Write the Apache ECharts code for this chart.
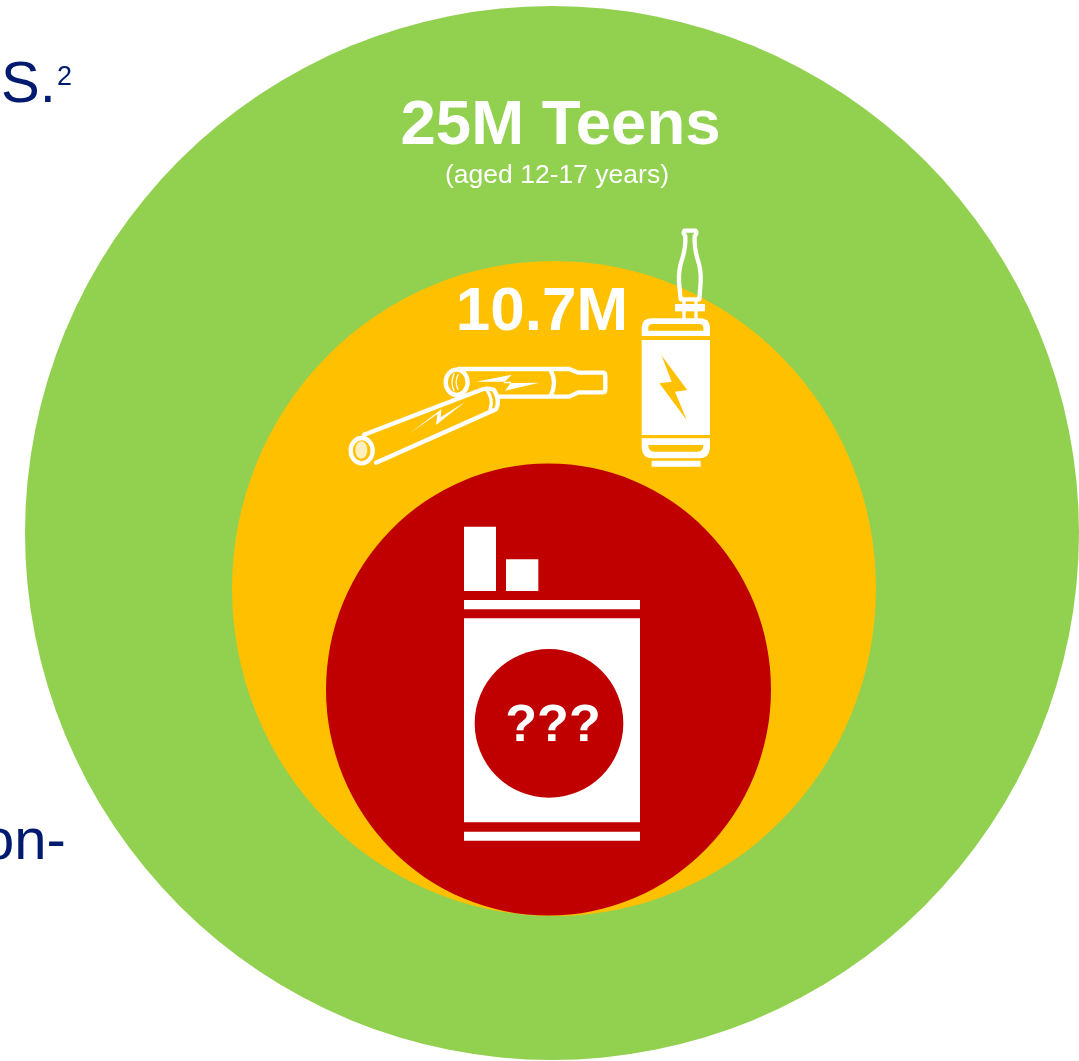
<!DOCTYPE html>
<html>
<head>
<meta charset="utf-8">
<title>Teen population and product use</title>
<style>
  html, body { margin: 0; padding: 0; background: #fff; overflow: hidden; }
  #chart { width: 1079px; height: 1061px; }
</style>
<script src="https://cdn.jsdelivr.net/npm/echarts@6/dist/echarts.min.js"></script>
</head>
<body>
<div id="chart"></div>
<script>
// Nested population circles, outermost first
const groupNames = ['Teens', 'Experimenters', 'Smokers'];
const centerX = [552, 554, 548.5];
const centerY = [533, 588.5, 689.5];
const widths = [1054, 644, 445];
const heights = [1054, 655, 452];
const groupColors = ['#92D050', '#FFC000', '#C00000'];

// Text drawn on and beside the circles
const headline = '25M Teens';
const headlineNote = '(aged 12-17 years)';
const midCount = '10.7M';
const unknownCount = '???';
const sideFragments = ['S.', '2', 'on-'];

const WHITE = '#FFFFFF';
const NAVY = '#001A70';
const FONT = '"Liberation Sans", Arial, sans-serif';
const ICON_Z = 15;

function text(str, x, y, size, weight, fill, align) {
  return {
    type: 'text', z: 20, silent: true,
    style: {
      text: str, x: x, y: y, fill: fill,
      font: (weight || 'normal') + ' ' + size + 'px ' + FONT,
      textAlign: align || 'center', textVerticalAlign: 'middle'
    }
  };
}
function box(x, y, w, h, fill) {
  return { type: 'rect', z: ICON_Z, shape: { x: x, y: y, width: w, height: h }, style: { fill: fill } };
}
// The graphic component has no SVG path type, so each outline is registered as its own shape
let pathCount = 0;
function path(d, fill, stroke, lw) {
  const shapeName = 'iconOutline' + pathCount++;
  echarts.graphic.registerShape(shapeName, echarts.graphic.extendPath(d, {}));
  return {
    type: shapeName, z: ICON_Z,
    style: { fill: fill || 'none', stroke: stroke || 'none', lineWidth: lw || 0, lineJoin: 'round', lineCap: 'round' }
  };
}

// Tank vape and the two cartridges; authored at 3x and scaled down by the group
const vapeIcons = {
  type: 'group', x: 330, y: 210, scaleX: 1 / 3, scaleY: 1 / 3, silent: true,
  children: [
    // glass mouthpiece
    path('M1063 62 L1097 62 Q1102 70 1094 78 Q1092 110 1102 145 Q1114 180 1112 215 L1108 268 L1052 268 L1047 215 Q1045 180 1057 145 Q1068 110 1066 78 Q1058 70 1063 62 Z', 'none', WHITE, 13),
    // threaded collar
    box(1035, 282, 90, 22, WHITE),
    path('M1062 268 L1062 326 M1098 268 L1098 326', 'none', WHITE, 10),
    // battery head with slot
    path('M935 378 L935 350 Q938 325 965 325 L1110 325 Q1137 325 1140 350 L1140 378 Z', WHITE),
    path('M955 362 L955 352 Q957 342 968 342 L1108 342 Q1118 342 1120 352 L1120 362 Z', '#FFC000'),
    // battery body and bolt
    box(935, 390, 205, 285, WHITE),
    path('M995 437 L1072 540 L1035 545 L1070 630 L988 520 L1025 515 Z', '#FFC000'),
    // battery foot with slot
    path('M935 685 L1140 685 L1140 715 Q1137 745 1108 745 L967 745 Q938 745 935 715 Z', WHITE),
    path('M955 705 L1120 705 Q1120 725 1102 725 L973 725 Q955 725 955 705 Z', '#FFC000'),
    box(965, 752, 147, 18, WHITE),

    // upper cartridge
    path('M385 477 L718 477 L745 488 L818 488 Q826 488 826 497 L826 538 Q826 547 818 547 L745 547 L718 560 L505 560', 'none', WHITE, 13),
    { type: 'ellipse', z: ICON_Z, shape: { cx: 380, cy: 517, rx: 33, ry: 38 }, style: { fill: 'none', stroke: WHITE, lineWidth: 13 } },
    path('M372 492 Q360 517 372 542 M384 494 Q373 517 384 538', 'none', WHITE, 4),
    path('M662 480 Q682 518 662 558', 'none', WHITE, 13),
    path('M438 515 L545 494 L520 520 L628 518 L525 542 L545 515 Z', WHITE),

    // lower cartridge, laid across the first
    path('M102 674 L442 544 Q470 530 492 540 Q512 572 498 598 L138 758', '#FFC000', WHITE, 13),
    path('M468 535 Q492 570 480 598', 'none', WHITE, 10),
    { type: 'ellipse', z: ICON_Z, shape: { cx: 95, cy: 722, rx: 33, ry: 38 }, style: { fill: '#FFC000', stroke: WHITE, lineWidth: 13 } },
    { type: 'ellipse', z: ICON_Z, shape: { cx: 94, cy: 720, rx: 18, ry: 26 }, style: { fill: 'rgba(255,255,255,0.75)' } },
    path('M235 673 L322 612 L318 645 L406 575 L332 622 L334 598 Z', WHITE)
  ]
};

// Cigarette pack, authored at 3x as well
const packIcon = {
  type: 'group', x: 440, y: 510, scaleX: 1 / 3, scaleY: 1 / 3, silent: true,
  children: [
    box(72, 50, 96, 193, WHITE),
    box(198, 148, 97, 95, WHITE),
    box(72, 270, 528, 28, WHITE),
    box(72, 325, 528, 612, WHITE),
    box(72, 965, 528, 27, WHITE),
    { type: 'circle', z: ICON_Z, shape: { cx: 327, cy: 640, r: 223 }, style: { fill: '#C00000' } }
  ]
};

const chart = echarts.init(document.getElementById('chart'), null, { renderer: 'canvas' });
chart.setOption({
  animation: false,
  backgroundColor: '#FFFFFF',
  grid: { left: 0, right: 0, top: 0, bottom: 0 },
  xAxis: { type: 'value', min: 0, max: 1079, show: false },
  yAxis: { type: 'value', min: 0, max: 1061, inverse: true, show: false },
  tooltip: { show: false },
  series: [{
    type: 'scatter',
    silent: true,
    clip: false,
    data: groupNames.map((name, i) => ({
      name: name,
      value: [centerX[i], centerY[i], widths[i], heights[i]],
      itemStyle: { color: groupColors[i], opacity: 1 }
    })),
    symbol: 'circle',
    symbolSize: v => [v[2], v[3]]
  }],
  graphic: { elements: [
    vapeIcons,
    packIcon,
    text(headline, 560.5, 126, 63.5, 'bold', WHITE),
    text(headlineNote, 557, 175.5, 26.5, 'normal', WHITE),
    text(midCount, 542, 313, 62, 'bold', WHITE),
    text(unknownCount, 553, 727, 52, 'bold', WHITE),
    text(sideFragments[0], 1, 86, 58, 'normal', NAVY, 'left'),
    text(sideFragments[1], 57, 78, 27, 'normal', NAVY, 'left'),
    text(sideFragments[2], -18, 843, 58, 'normal', NAVY, 'left')
  ] }
});
</script>
</body>
</html>
